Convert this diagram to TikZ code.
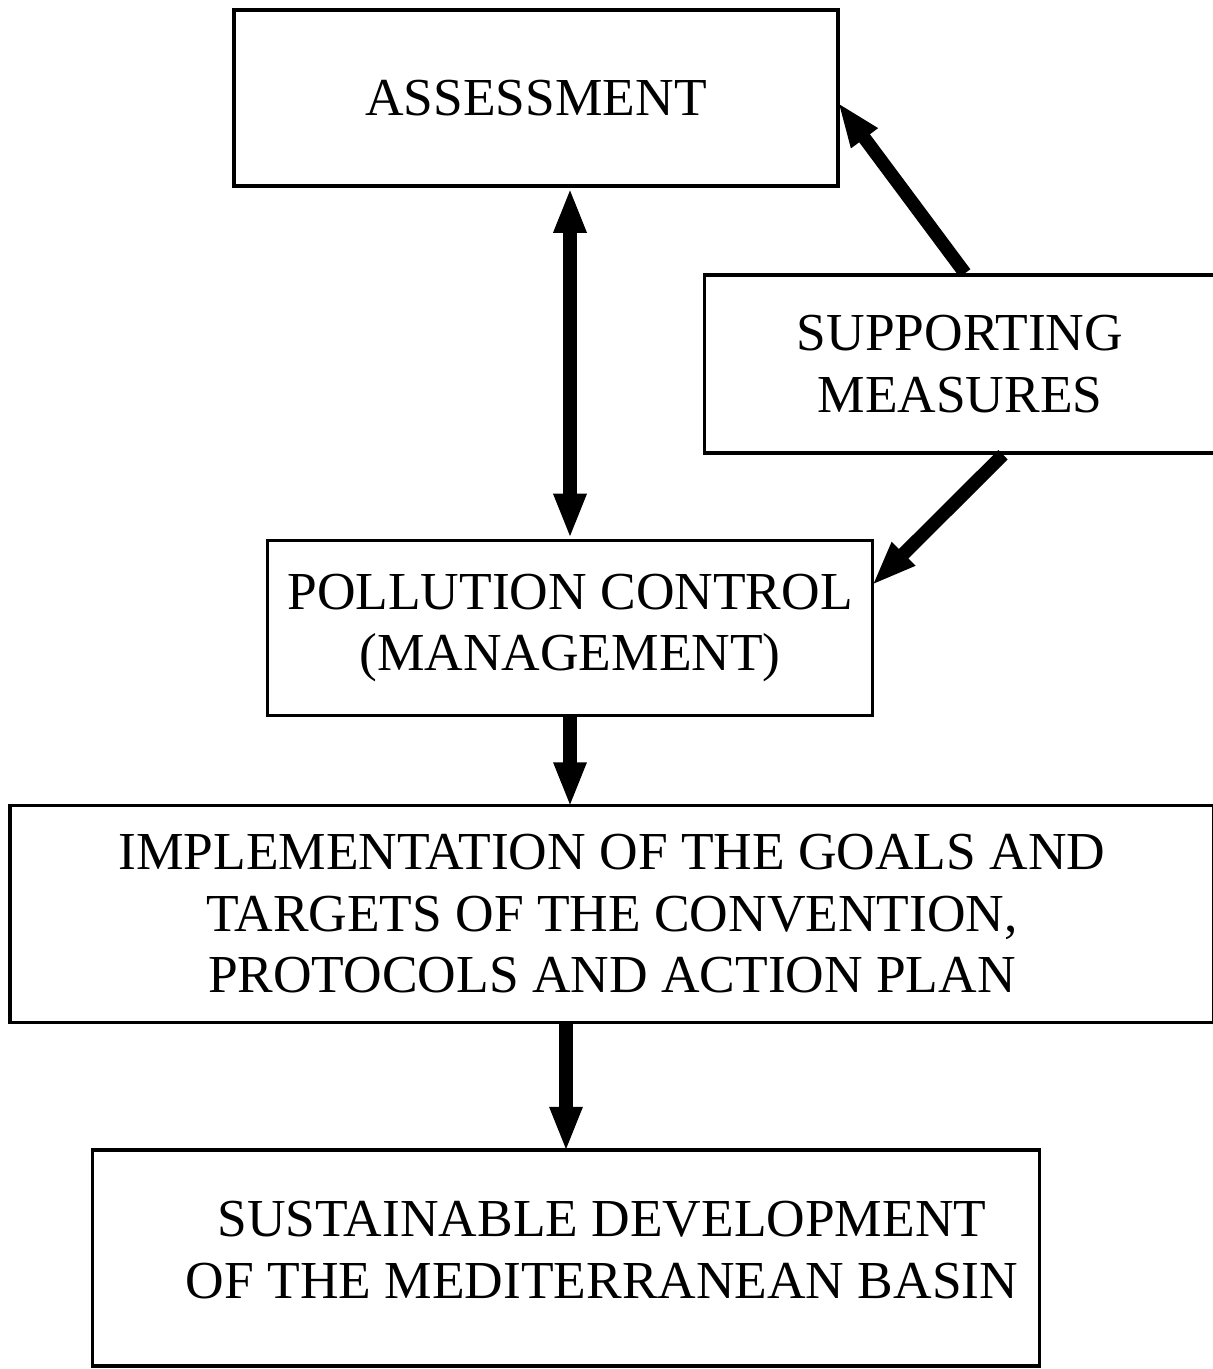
\documentclass[tikz,border=0pt]{standalone}
\usepackage{fontspec}
\setmainfont{Liberation Serif}
\usepackage{tikz}
\usetikzlibrary{shapes,arrows.meta,positioning}

\begin{document}
\begin{tikzpicture}[auto]
    % Define styles
    \tikzstyle{box} = [rectangle, draw=black, line width=1pt, text centered, align=center, font=\fontsize{15.2}{17.5}\selectfont]
    \tikzstyle{link} = [line width=3.8pt, -{Triangle[length=4.5mm, width=3mm]}, shorten >=-1pt]
    \tikzstyle{duallink} = [line width=3.8pt, {Triangle[length=4.5mm, width=3mm]}-{Triangle[length=4.5mm, width=3mm]}]

    \useasboundingbox (0,0) rectangle (12.12,-13.69);

    % Nodes
    \node[box, minimum width=6.04cm, minimum height=1.76cm] (assessment) at (5.36,-0.98) {ASSESSMENT};
    \node[box, minimum width=5.11cm, minimum height=1.78cm] (supp_measures) at (9.60,-3.64) {SUPPORTING\\MEASURES};
    \node[box, minimum width=6.05cm, minimum height=1.75cm, below of=assessment, node distance=5.30cm, xshift=0.34cm] (pollution_ctrl) {POLLUTION CONTROL\\(MANAGEMENT)};
    \node[box, minimum width=12.04cm, minimum height=2.17cm, below of=pollution_ctrl, node distance=2.86cm, xshift=0.42cm] (implementation) {IMPLEMENTATION OF THE GOALS AND\\TARGETS OF THE CONVENTION,\\PROTOCOLS AND ACTION PLAN};
    \node[box, minimum width=9.47cm, minimum height=2.16cm, below of=implementation, node distance=3.44cm, xshift=-0.46cm] (sustainable_dev) {};
    \node[font=\fontsize{15.2}{17.5}\selectfont, align=center, xshift=0.36cm, yshift=0.08cm] (sustainable_txt) at (sustainable_dev) {SUSTAINABLE DEVELOPMENT\\OF THE MEDITERRANEAN BASIN};

    % Connections
    \draw[duallink] (pollution_ctrl.north) -- (pollution_ctrl.north |- assessment.south);
    \draw[link] ([xshift=0.05cm]supp_measures.north) -- ([yshift=-0.07cm]assessment.east);
    \draw[link] ([xshift=0.43cm]supp_measures.south) -- ([yshift=0.45cm]pollution_ctrl.east);
    \draw[link] (pollution_ctrl.south) -- (pollution_ctrl.south |- implementation.north);
    \draw[link] (sustainable_dev.north |- implementation.south) -- (sustainable_dev.north);
\end{tikzpicture}
\end{document}
